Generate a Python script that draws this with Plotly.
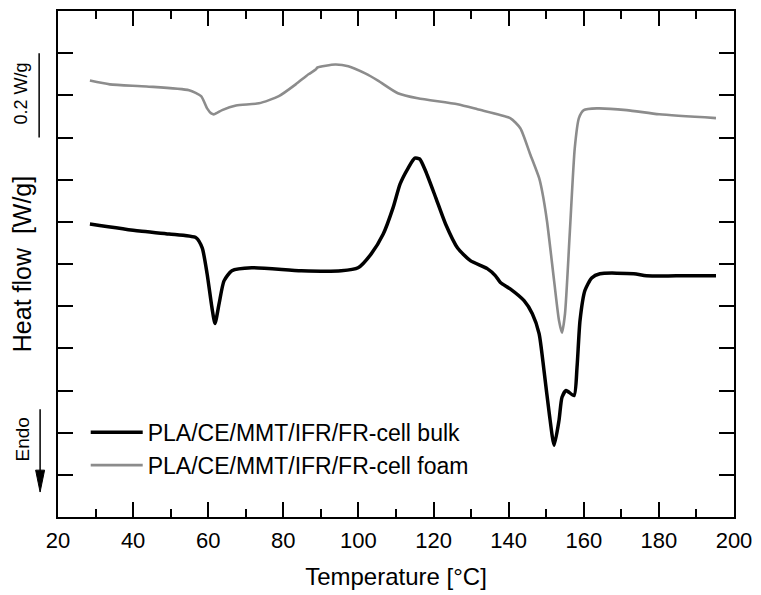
import plotly.graph_objects as go

# Temperature (°C) and heat flow (W/g)
temp_bulk = [28.5, 41.7, 49.6, 56.8, 58.4, 59.7, 61.0, 61.8, 62.9, 64.2, 66.3, 71.6,
             84.8, 95.4, 99.9, 103.4, 106.6, 109.2, 111.1, 113.2, 115.0, 116.3, 117.9,
             120.6, 123.2, 126.4, 129.8, 134.3, 136.5, 137.8, 140.4, 144.1, 146.3,
             148.1, 149.4, 150.8, 152.1, 153.4, 154.2, 155.3, 157.4, 158.2, 159.0,
             160.3, 162.1, 164.3, 173.3, 176.7, 184.6, 195.2]
hf_bulk = [0.695, 0.678, 0.671, 0.662, 0.638, 0.577, 0.496, 0.459, 0.506, 0.560, 0.584, 0.591,
           0.584, 0.584, 0.591, 0.624, 0.671, 0.733, 0.790, 0.827, 0.851, 0.849, 0.820,
           0.757, 0.695, 0.638, 0.608, 0.589, 0.572, 0.556, 0.541, 0.513, 0.482,
           0.435, 0.348, 0.246, 0.170, 0.229, 0.284, 0.300, 0.288, 0.355, 0.466,
           0.537, 0.567, 0.577, 0.577, 0.572, 0.572, 0.572]

temp_foam = [28.5, 33.8, 43.6, 54.9, 58.1, 59.7, 60.8, 61.6, 63.7, 67.4, 73.5, 78.8,
             83.3, 86.7, 88.6, 89.1, 93.8, 97.3, 101.8, 105.2, 110.5, 115.8, 126.4,
             131.7, 140.4, 143.1, 145.7, 148.1, 148.9, 150.2, 152.1, 153.4, 154.2,
             155.0, 156.3, 157.6, 158.7, 160.0, 163.5, 171.4, 180.1, 195.2]
hf_foam = [1.035, 1.026, 1.021, 1.012, 0.998, 0.969, 0.957, 0.955, 0.965, 0.976, 0.981, 0.998,
           1.026, 1.050, 1.061, 1.066, 1.073, 1.069, 1.052, 1.035, 1.005, 0.993, 0.979,
           0.967, 0.946, 0.922, 0.861, 0.804, 0.773, 0.702, 0.560, 0.466, 0.437,
           0.482, 0.678, 0.875, 0.946, 0.965, 0.969, 0.965, 0.955, 0.946]

x_ticks = [20, 40, 60, 80, 100, 120, 140, 160, 180, 200]
scale_bar = [0.9, 1.1]  # 0.2 W/g

FONT = "Liberation Sans, Arial, sans-serif"

fig = go.Figure()
fig.add_trace(go.Scatter(x=temp_bulk, y=hf_bulk, mode="lines",
                         name="PLA/CE/MMT/IFR/FR-cell bulk",
                         line=dict(color="black", width=3.5, shape="spline", smoothing=0.6)))
fig.add_trace(go.Scatter(x=temp_foam, y=hf_foam, mode="lines",
                         name="PLA/CE/MMT/IFR/FR-cell foam",
                         line=dict(color="#8c8c8c", width=2.6, shape="spline", smoothing=0.6)))

fig.update_layout(
    width=761, height=595,
    margin=dict(l=58, r=23, t=9, b=78),
    paper_bgcolor="white", plot_bgcolor="white",
    font=dict(family=FONT, color="black"),
    showlegend=True,
    legend=dict(x=0.041, y=0.21, xanchor="left", yanchor="top",
                font=dict(size=23, family=FONT), bgcolor="rgba(0,0,0,0)",
                itemwidth=52, tracegroupgap=0),
    xaxis=dict(range=[20, 200], tickvals=x_ticks, ticks="inside", ticklen=15, tickwidth=1.5,
               tickcolor="black", showline=True, linecolor="black", linewidth=1.5,
               mirror="ticks", showgrid=False, zeroline=False,
               tickfont=dict(size=22, family=FONT), ticklabelstandoff=3,
               minor=dict(dtick=10, ticks="inside", ticklen=8, tickwidth=1.5, tickcolor="black", showgrid=False),
               title=dict(text="Temperature [°C]", font=dict(size=24, family=FONT), standoff=16)),
    yaxis=dict(range=[0, 1.2], dtick=0.1, ticks="inside", ticklen=15, tickwidth=1.5,
               tickcolor="black", showline=True, linecolor="black", linewidth=1.5,
               mirror="ticks", showgrid=False, zeroline=False, showticklabels=False,
               title=dict(text="Heat flow  [W/g]", font=dict(size=25, family=FONT), standoff=18)),
)

# scale bar 0.2 W/g
fig.add_shape(type="line", xref="paper", yref="y", x0=-0.0279, x1=-0.0279,
              y0=scale_bar[0], y1=scale_bar[1], line=dict(color="black", width=1.5))
fig.add_annotation(xref="paper", yref="y", x=(21 - 58) / 680, y=sum(scale_bar) / 2 + 0.005,
                   xanchor="center", yanchor="middle",
                   text="0.2 W/g", textangle=-90, showarrow=False,
                   font=dict(size=18, family=FONT))

# Endo arrow
ax_x = (40 - 58) / 680
fig.add_shape(type="line", xref="paper", yref="paper", x0=ax_x, x1=ax_x,
              y0=0.213, y1=0.09, line=dict(color="black", width=1.5))
hw = 4.5 / 680
fig.add_shape(type="path", xref="paper", yref="paper",
              path=f"M {ax_x - hw},0.0926 L {ax_x + hw},0.0926 L {ax_x},0.0493 Z",
              fillcolor="black", line=dict(color="black", width=1))
fig.add_annotation(xref="paper", yref="paper", x=(22 - 58) / 680, y=(517 - 439) / 507.5,
                   xanchor="center", yanchor="middle",
                   text="Endo", textangle=-90, showarrow=False,
                   font=dict(size=19, family=FONT))

fig.write_html("out.html")
